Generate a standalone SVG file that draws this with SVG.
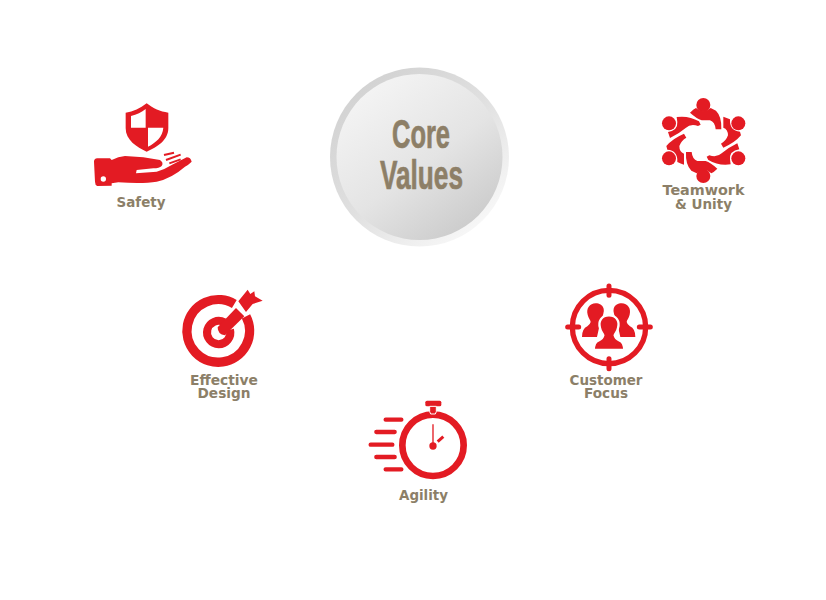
<svg xmlns="http://www.w3.org/2000/svg" width="826" height="600" viewBox="0 0 826 600">
<style>
.l{font-family:"DejaVu Sans",Verdana,sans-serif;font-weight:700;font-size:13.5px;fill:#8c7f68;text-anchor:middle}
.c{font-family:"Liberation Sans",Arial,sans-serif;font-weight:700;font-size:40px;fill:#8d7f67;stroke:#8d7f67;stroke-width:.7px}
.r{fill:#e31b23}
.s{fill:none;stroke:#e31b23}
</style>
<defs>
<linearGradient id="ring" x1="0.15" y1="0.1" x2="0.85" y2="0.9"><stop offset="0" stop-color="#d2d2d2"/><stop offset="0.5" stop-color="#e0e0e0"/><stop offset="1" stop-color="#f8f8f8"/></linearGradient>
<linearGradient id="face" x1="0.2" y1="0.1" x2="0.8" y2="0.9"><stop offset="0" stop-color="#f3f3f3"/><stop offset="0.55" stop-color="#e4e4e4"/><stop offset="1" stop-color="#cdcdcd"/></linearGradient>
<path id="t1" d="M90 50Q100 40 108 36Q130 56 152 36L168 44Q186 62 184 100L167 100Q165 78 150 73L125 73Q110 68 90 50Z"/>
<path id="t2" d="M190 62Q200 65 210 70Q208 105 240 107L243 118Q225 140 190 155L183 143Q198 135 204 118Q204 100 190 95Z"/>
<path id="t3" d="M232 142L238 160Q208 165 210 190L212 205Q175 210 145 192L140 182L148 178Q170 186 185 172Q205 155 232 142Z"/>
</defs>
<g id="core">
<circle cx="419.5" cy="157" r="89.5" fill="url(#ring)"/>
<circle cx="419.5" cy="157" r="83" fill="url(#face)"/>
<text class="c" x="392" y="148" textLength="58" lengthAdjust="spacingAndGlyphs">Core</text>
<text class="c" x="380" y="189" textLength="83" lengthAdjust="spacingAndGlyphs">Values</text>
</g>
<g id="safety">
<g transform="translate(80 90) scale(.3333)">
<path class="r" d="M200 40C180 55 160 65 137 68L137 115C137 150 170 172 200 185C232 172 265 150 265 115L265 68C240 65 220 55 200 40Z"/>
<path fill="#fff" d="M197 57C185 67 170 74 153 78L153 113L197 113ZM204 113L250 113C248 140 228 158 204 170Z"/>
</g>
<g transform="translate(90 150) scale(.3333)">
<path class="r" d="M12 35Q12 26 22 25L60 25L65 30Q85 20 105 18L160 22L210 30Q222 38 215 48Q208 55 190 55L140 60L138 70L200 65Q225 58 245 45L290 22Q302 22 305 35Q295 45 285 50Q245 85 200 95Q160 102 85 97L65 100L65 107L22 108Q15 105 15 95Z"/>
<circle cx="40" cy="87" r="8" fill="#fff"/>
<path class="s" stroke-width="6" d="M222 15L252 8M228 30L272 14M238 40L272 28"/>
</g>
<text class="l" x="141" y="207" textLength="49" lengthAdjust="spacingAndGlyphs">Safety</text>
</g>
<g id="teamwork">
<g transform="translate(660 96) scale(.3333)">
<circle class="r" cx="130" cy="27" r="21"/><circle class="r" cx="27" cy="82" r="21"/><circle class="r" cx="235" cy="82" r="21"/><circle class="r" cx="27" cy="187" r="21"/><circle class="r" cx="235" cy="187" r="21"/><circle class="r" cx="130" cy="240" r="21"/>
<g class="r">
<use href="#t1"/>
<use href="#t2"/>
<use href="#t3"/>
<use href="#t1" transform="rotate(180 131 134)"/>
<use href="#t2" transform="rotate(180 131 134)"/>
<use href="#t3" transform="rotate(180 131 134)"/>
</g>
</g>
<text class="l" x="703.5" y="195" textLength="82" lengthAdjust="spacingAndGlyphs">Teamwork</text>
<text class="l" x="703.5" y="209" textLength="57" lengthAdjust="spacingAndGlyphs">&amp; Unity</text>
</g>
<g id="effective-design">
<g transform="translate(181 288) scale(.3333)">
<path class="s" stroke-width="28" d="M160 48A94 94 0 1 0 195 85"/>
<path class="s" stroke-width="24" d="M130 103A35 35 0 1 0 147 125"/>
<path class="r" d="M110 118L165 60L190 85L132 142Q110 140 110 118Z"/>
<path class="r" d="M172 40L200 5L208 18L220 10L222 25L245 38L215 48L195 72Z"/>
</g>
<text class="l" x="224" y="384.500" textLength="68" lengthAdjust="spacingAndGlyphs">Effective</text>
<text class="l" x="224" y="397.500" textLength="53" lengthAdjust="spacingAndGlyphs">Design</text>
</g>
<g id="customer-focus">
<g transform="translate(562 282) scale(.3333)">
<circle class="s" cx="141" cy="135" r="110" stroke-width="16"/>
<path class="s" stroke-width="15" stroke-linecap="round" d="M141 12V40M141 230V260M17 135H50M232 135H265"/>
<path class="r" d="M101 64C83 64 72 80 77 98C79 108 86 114 86 120Q84 128 76 133Q60 140 60 165H105L115 120Q128 90 125 80C121 68 112 64 101 64Z"/>
<path class="r" d="M179 64C197 64 208 80 203 98C201 108 194 114 194 120Q196 128 204 133Q220 140 220 165H175L165 120Q152 90 155 80C159 68 168 64 179 64Z"/>
<path class="r" stroke="#fff" stroke-width="7" d="M141 100C119 100 108 118 114 138C116 150 122 154 124 160Q122 170 110 175Q96 180 95 204H187Q186 180 172 175Q160 170 158 160C160 154 166 150 168 138C174 118 163 100 141 100Z"/>
</g>
<text class="l" x="606" y="385" textLength="73" lengthAdjust="spacingAndGlyphs">Customer</text>
<text class="l" x="606" y="398" textLength="44" lengthAdjust="spacingAndGlyphs">Focus</text>
</g>
<g id="agility">
<g transform="translate(366 396) scale(.3333)">
<circle class="s" cx="201" cy="148" r="92" stroke-width="20"/>
<rect class="r" x="178" y="14" width="48" height="17" rx="5"/>
<path class="r" d="M191 31H211V47L208 54H194L191 47Z" stroke="#fff" stroke-width="3"/>
<path class="s" stroke-width="4" d="M201 85V150"/>
<circle class="r" cx="201" cy="150" r="11"/>
<path class="s" stroke-width="9" d="M215 137L232 122"/>
<path class="s" stroke-width="13" stroke-linecap="round" d="M59 71H106M31 108H86M14 146H79M31 183H86M59 220H106"/>
</g>
<text class="l" x="423.500" y="500" textLength="49" lengthAdjust="spacingAndGlyphs">Agility</text>
</g>
</svg>
